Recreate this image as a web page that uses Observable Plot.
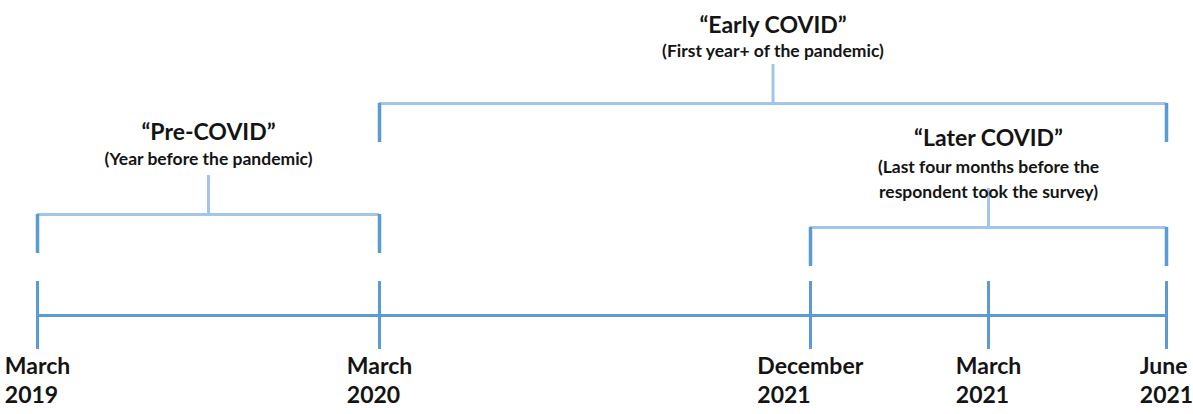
<!DOCTYPE html>
<html><head><meta charset="utf-8">
<script src="https://cdn.jsdelivr.net/npm/d3@7"></script>
<script src="https://cdn.jsdelivr.net/npm/@observablehq/plot@0.6"></script>
<style>body{margin:0;background:#fff} svg{display:block}</style>
</head><body><div id="chart"></div>
<script>
// ---- data ----
const eventLabels = ["March\n2019", "March\n2020", "December\n2021", "March\n2021", "June\n2021"];
const eventMonths = [0, 12, 21, 24, 27]; // order along the drawn timeline
const periodNames = ["“Pre-COVID”", "“Early COVID”", "“Later COVID”"];
const periodNotes = ["(Year before the pandemic)", "(First year+ of the pandemic)", "(Last four months before the\nrespondent took the survey)"];
const periodStart = [0, 12, 21];
const periodEnd = [12, 27, 27];

// ---- layout (drawing only) ----
const W = 1193, H = 414;
const tickPx = [37, 379, 810, 988, 1166];
const lineY = 315, tickTop = 281, tickBot = 349;
const bracketY = [214, 103, 227];
const legLen = 39, stemLen = 39;
const titleY = [132, 25, 138];
const noteY = [156, 48, 177];
const DARK = "#5b9bd5", LIGHT = "#a3c5e8", INK = "#141414";
const FONT = "Lato, 'Liberation Sans', sans-serif";

const events = eventMonths.map((m, i) => ({m, label: eventLabels[i]}));
const xs = d3.scaleLinear().domain(eventMonths).range(tickPx);
const periods = periodNames.map((name, i) => {
  const mid = xs.invert((xs(periodStart[i]) + xs(periodEnd[i])) / 2);
  return {name, note: periodNotes[i], start: periodStart[i], end: periodEnd[i], mid,
          y: bracketY[i], ty: titleY[i], ny: noteY[i]};
});
const legs = periods.flatMap(p => [{x: p.start, y: p.y}, {x: p.end, y: p.y}]);

const chart = Plot.plot({
  width: W, height: H,
  margin: 0,
  x: {type: "linear", domain: eventMonths, range: tickPx, axis: null},
  y: {type: "identity", axis: null},
  marks: [
    // timeline
    Plot.ruleY([lineY], {x1: eventMonths[0], x2: eventMonths[eventMonths.length - 1], stroke: DARK, strokeWidth: 3}),
    Plot.ruleX(events, {x: "m", y1: tickTop, y2: tickBot, stroke: DARK, strokeWidth: 3}),
    // brackets
    Plot.ruleY(periods, {y: "y", x1: "start", x2: "end", stroke: LIGHT, strokeWidth: 3}),
    Plot.ruleX(legs, {x: "x", y1: "y", y2: d => d.y + legLen, stroke: DARK, strokeWidth: 3.5}),
    Plot.ruleX(periods, {x: "mid", y1: d => d.y - stemLen, y2: "y", stroke: LIGHT, strokeWidth: 3}),
    // period titles and notes
    Plot.text(periods, {x: "mid", y: "ty", text: "name", fontFamily: FONT, fontWeight: "bold", fontSize: 23, fill: INK, lineAnchor: "middle"}),
    Plot.text(periods, {x: "mid", y: "ny", text: "note", fontFamily: FONT, fontWeight: "bold", fontSize: 17.5, fill: INK, lineAnchor: "middle", lineHeight: 1.43}),
    // event labels
    Plot.text(events, {x: "m", y: 353, text: "label", fontFamily: FONT, fontWeight: "bold", fontSize: 23, fill: INK, lineAnchor: "top", textAnchor: "start", lineHeight: 1.25, className: "evlab"})
  ]
});
document.getElementById("chart").appendChild(chart);
// center each (left-aligned) label block on its tick
chart.querySelectorAll(".evlab text").forEach(t => {
  const w = t.getBBox().width;
  const tr = t.getAttribute("transform") || "";
  t.setAttribute("transform", tr + ` translate(${-w / 2},0)`);
});
</script>
</body></html>
